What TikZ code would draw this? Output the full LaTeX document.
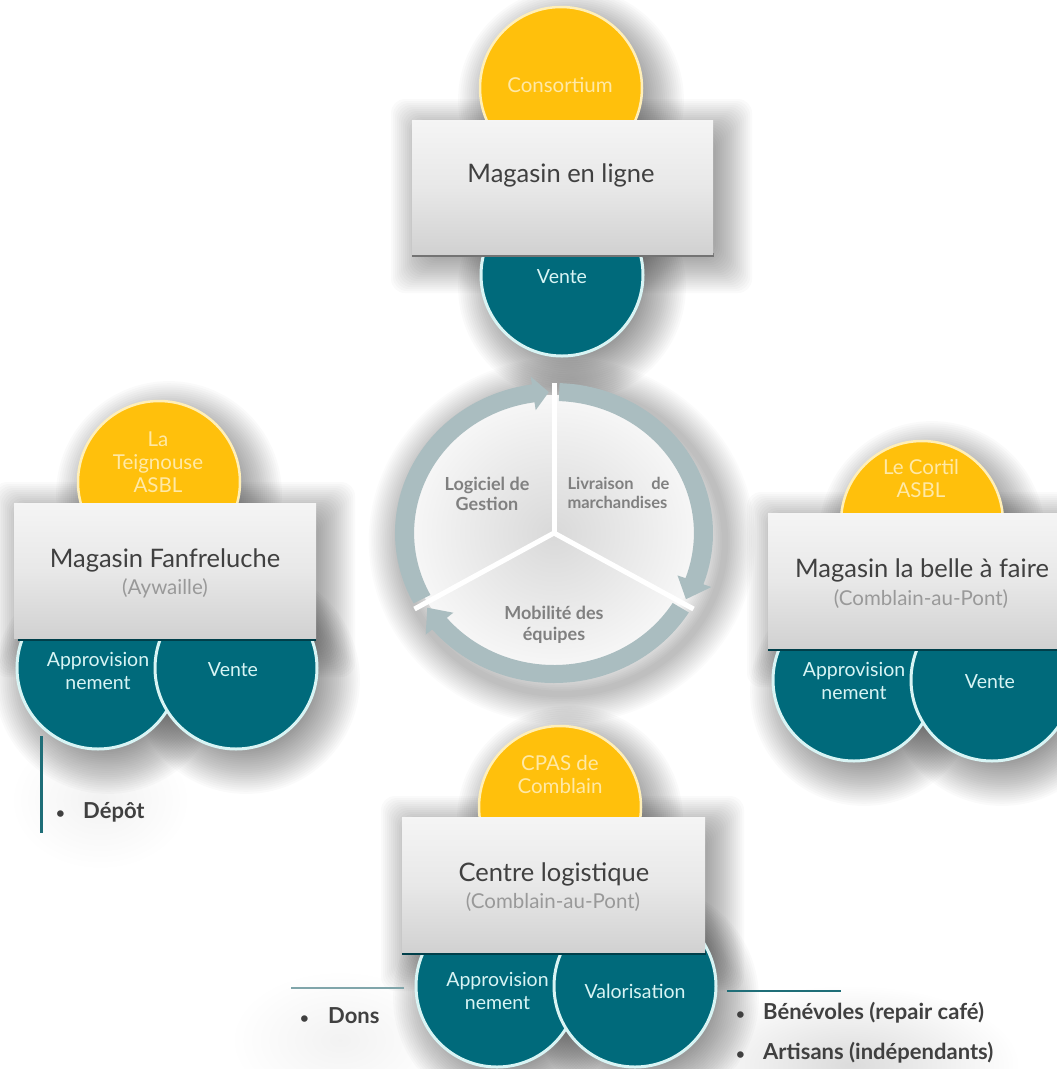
\documentclass[tikz,border=0pt]{standalone}
\usepackage{fontspec}
\setmainfont{Lato}
\usetikzlibrary{calc}
\definecolor{teal1}{HTML}{006A7B}
\definecolor{tealedge}{HTML}{D8F4F4}
\definecolor{gold1}{HTML}{FFC00C}
\definecolor{goldedge}{HTML}{FFEFB8}
\definecolor{goldtxt}{HTML}{FFE9A6}
\definecolor{ringc}{HTML}{AABDC0}
\definecolor{dark}{HTML}{404040}
\definecolor{linec}{HTML}{1F6E78}
\tikzset{
 x=1pt,y=-1pt,
 goldc/.style={circle,draw=goldedge,line width=2.5pt,fill=gold1,minimum size=162pt,inner sep=0},
 tealc/.style={circle,draw=tealedge,line width=3pt,fill=teal1,minimum size=162pt,inner sep=0},
 panel/.style={rectangle,inner sep=0,top color=white!96!black,bottom color=black!18,middle color=black!9},
 goldt/.style={text=goldtxt,font=\fontsize{20.5}{23}\selectfont,align=center},
 tealt/.style={text=tealedge,font=\fontsize{19.5}{22.5}\selectfont,align=center},
 titlet/.style={text=dark,font=\fontsize{25.5}{28}\selectfont},
 subt/.style={text=black!40,font=\fontsize{20.5}{24}\selectfont},
 listt/.style={text=dark,font=\fontsize{22}{24}\selectfont\bfseries,anchor=west,inner sep=0},
 ringt/.style={text=black!50,font=\fontsize{18}{20.5}\selectfont\bfseries,align=center},
 ruleline/.style={linec,line width=1.3pt},
 ringfill/.style={fill=ringc},
 shadowlayer/.style={black,opacity=.02}
}
\newcommand{\softc}[3]{\foreach \k in {1,...,22}{\fill[shadowlayer] ({#1+10},{#2+12}) circle ({#3+34-\k*2.1});}}
\newcommand{\softb}[4]{\foreach \k in {1,...,22}{\fill[shadowlayer,rounded corners=14pt] ({#1+9-32+\k*2},{#2+9-32+\k*2}) rectangle ({#3+9+32-\k*2},{#4+9+32-\k*2});}}
\newcommand{\bullettxt}[2]{\makebox[#1][l]{\fontsize{15}{15}\selectfont •}#2}
\begin{document}
\begin{tikzpicture}
\useasboundingbox (0,0) rectangle (1057,1069);
\clip (0,0) rectangle (1057,1069);
\fill[white] (0,0) rectangle (1057,1069);

% ---------- soft shadows
\shade[inner color=black!14,outer color=white] (850,1065) ellipse (170 and 80);
\shade[inner color=black!5,outer color=white] (340,1040) ellipse (110 and 70);
\shade[inner color=black!5,outer color=white] (100,800) ellipse (90 and 70);
\softc{561}{88}{81}\softc{562}{275}{82}
\softc{159}{482}{81}\softc{98}{668}{82}\softc{236}{668}{82}
\softc{922}{522}{81}\softc{854}{680}{82}\softc{992}{680}{82}
\softc{560}{807}{81}\softc{497}{986}{82}\softc{635}{986}{82}
\softb{412}{120}{713}{254}\softb{14}{503}{316}{638}
\softb{768}{513}{1075}{648}\softb{402}{817}{705}{952}
\foreach \k in {1,...,16}{\draw[black,opacity=.016,line width={64-\k*3.6}] (562,541) ellipse (163 and 153);}

% ---------- top cluster
\node[goldc] (ctop) at (561,88) {};
\node[tealc] (vtop) at (562,275) {};
\fill[black!55] (412,253) rectangle (714,257);
\node[panel,minimum width=301pt,minimum height=134pt] (btop) at (562.5,187) {};
\node[goldt] (ttop) at (560,85) {Consortium};
\node[titlet] (ltop) at (561,175) {Magasin en ligne};
\node[tealt] (wtop) at (562,277) {Vente};

% ---------- left cluster
\node[goldc] (cleft) at (159,482) {};
\node[tealc] (aleft) at (98,668) {};
\node[tealc] (vleft) at (236,668) {};
\fill[teal1!60!black] (18,637) rectangle (316,641);
\node[panel,minimum width=302pt,minimum height=135pt] (bleft) at (165,570.5) {};
\node[goldt] (tleft) at (158,462) {La\\Teignouse\\ASBL};
\node[titlet] (lleft) at (165,560) {Magasin Fanfreluche};
\node[subt] (sleft) at (165,588) {(Aywaille)};
\node[tealt] (pleft) at (98,671) {Approvision\\nement};
\node[tealt] (wleft) at (233,670) {Vente};

% ---------- right cluster
\node[goldc] (cright) at (922,522) {};
\node[tealc] (aright) at (854,680) {};
\node[tealc] (vright) at (992,680) {};
\fill[teal1!60!black] (768,647) rectangle (1057,651);
\node[panel,minimum width=307pt,minimum height=135pt] (bright) at (921.5,580.5) {};
\node[goldt] (tright) at (921,478.5) {Le Cortil\\ASBL};
\node[titlet] (lright) at (922,570) {Magasin la belle à faire};
\node[subt] (sright) at (921,599) {(Comblain-au-Pont)};
\node[tealt] (pright) at (854,681) {Approvision\\nement};
\node[tealt] (wright) at (990,682) {Vente};

% ---------- bottom cluster
\node[goldc] (cbot) at (560,807) {};
\node[tealc] (abot) at (497,986) {};
\node[tealc] (vbot) at (635,986) {};
\fill[teal1!60!black] (402,951) rectangle (706,955);
\node[panel,minimum width=303pt,minimum height=135pt] (bbot) at (553.5,884.5) {};
\node[goldt] (tbot) at (560,775) {CPAS de\\Comblain};
\node[titlet] (lbot) at (554,874) {Centre logistique};
\node[subt] (sbot) at (553,902) {(Comblain-au-Pont)};
\node[tealt] (pbot) at (497.5,991) {Approvision\\nement};
\node[tealt] (wbot) at (635,991) {Valorisation};

% ---------- lists
\coordinate (r1a) at (41,736); \coordinate (r1b) at (41,833);
\draw[linec,line width=3pt] (r1a) -- (r1b);
\node[listt] (depot) at (56,812) {\bullettxt{27pt}{Dépôt}};
\coordinate (r2a) at (291,988); \coordinate (r2b) at (404,988);
\draw[ringc!70!linec,line width=1.6pt] (r2a) -- (r2b);
\node[listt] (dons) at (300,1016) {\bullettxt{28pt}{Dons}};
\coordinate (r3a) at (727,991); \coordinate (r3b) at (841,991);
\draw[ruleline] (r3a) -- (r3b);
\node[listt] (benev) at (736,1013) {\bullettxt{27pt}{Bénévoles (repair café)}};
\node[listt] (artis) at (736,1053) {\bullettxt{27pt}{Artisans (indépendants)}};

% ---------- central wheel
\begin{scope}[shift={(554,533)},x=1.06pt,y=1pt]
 \shade[inner color=black!15,outer color=black!3] (0,0) circle (138);
 \draw[white,line width=5pt] (0,0) -- (90:150);
 \draw[white,line width=5pt] (0,0) -- (-30:152);
 \draw[white,line width=5pt] (0,0) -- (210:152);
 \fill[ringfill] (208:132) arc (208:98:132) -- (98:124) -- (92:141) -- (98:158) -- (98:150) arc (98:208:150) -- cycle;
 \fill[ringfill] (88:150) arc (88:-20:150) -- (-20:158) -- (-28:141) -- (-20:124) -- (-20:132) arc (-20:88:132) -- cycle;
 \fill[ringfill] (-32:150) arc (-32:-140:150) -- (-140:158) -- (-148:141) -- (-140:124) -- (-140:132) arc (-140:-32:132) -- cycle;
\end{scope}
\node[ringt] (wa) at (487,494) {Logiciel de\\Gestion};
\node[ringt,text width=102pt,align=justify,font=\fontsize{16.5}{19.5}\selectfont\bfseries] (wb) at (618.5,493) {Livraison de marchandises};
\node[ringt] (wc) at (554,625) {Mobilité des\\équipes};
\end{tikzpicture}
\end{document}
